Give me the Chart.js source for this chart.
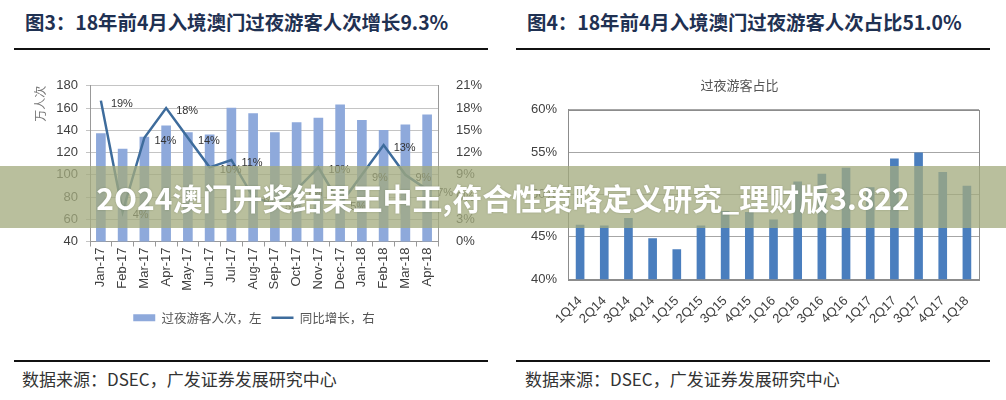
<!DOCTYPE html>
<html><head><meta charset="utf-8">
<script src="https://cdn.jsdelivr.net/npm/chart.js@4.4.1/dist/chart.umd.min.js"></script>
<style>
body{margin:0;width:1006px;height:400px;background:#fff;position:relative;overflow:hidden;font-family:"Noto Sans CJK SC",sans-serif;}
.t{position:absolute;top:7px;font-size:19.4px;font-weight:bold;color:#1F3152;white-space:nowrap;}
.rule{position:absolute;height:2px;background:#111;}
.src{position:absolute;top:366px;font-size:17px;color:#333;white-space:nowrap;}
#c1wrap{position:absolute;left:14px;top:60px;width:480px;height:274px;}
#c2wrap{position:absolute;left:500px;top:60px;width:506px;height:290px;}
#banner{position:absolute;left:0;top:166px;width:1006px;height:62px;background:rgba(163,171,126,0.76);z-index:5;color:#fff;font-weight:bold;font-size:30px;text-align:center;line-height:62px;white-space:nowrap;text-shadow:0 0 2px rgba(80,90,60,0.4);}
</style></head>
<body>
<div class="t" style="left:25px">图3：18年前4月入境澳门过夜游客人次增长9.3%</div>
<div class="t" style="left:527px">图4：18年前4月入境澳门过夜游客人次占比51.0%</div>
<div class="rule" style="left:14px;top:48px;width:474px"></div>
<div class="rule" style="left:516px;top:48px;width:474px"></div>
<div id="c1wrap"><canvas id="c1" width="480" height="274"></canvas></div>
<div id="c2wrap"><canvas id="c2" width="506" height="290"></canvas></div>
<div class="rule" style="left:14px;top:360px;width:474px"></div>
<div class="rule" style="left:516px;top:360px;width:474px"></div>
<div class="src" style="left:22px">数据来源：DSEC，广发证券发展研究中心</div>
<div class="src" style="left:525px">数据来源：DSEC，广发证券发展研究中心</div>
<div id="banner">2O24澳门开奖结果王中王,符合性策略定义研究_理财版3.822</div>
<script>
// ---- data ----
const months = ['Jan-17','Feb-17','Mar-17','Apr-17','May-17','Jun-17','Jul-17','Aug-17','Sep-17','Oct-17','Nov-17','Dec-17','Jan-18','Feb-18','Mar-18','Apr-18'];
const overnightVisitors = [137,123,134,144,138,136,160,155,138,147,151,163,149,140,145,154];
const yoyGrowth = [19,4,14,18,14,10,11,6,5,7,10,5,9,13,9,7];
const quarters = ['1Q14','2Q14','3Q14','4Q14','1Q15','2Q15','3Q15','4Q15','1Q16','2Q16','3Q16','4Q16','1Q17','2Q17','3Q17','4Q17','1Q18'];
const overnightShare = [46.4,46.3,47.2,44.8,43.5,46.3,48.0,47.9,47.0,51.5,52.4,53.1,50.8,54.2,54.9,52.6,51.0];

Chart.defaults.font.family = '"Liberation Sans", Arial, sans-serif';
Chart.defaults.color = '#404040';

const pctLabels = {
  id:'pctLabels',
  afterDatasetsDraw(chart){
    const idx = chart.data.datasets.findIndex(d => d.type === 'line');
    if (idx < 0) return;
    const meta = chart.getDatasetMeta(idx);
    const ctx = chart.ctx;
    ctx.save();
    ctx.font = '11px "Liberation Sans", Arial, sans-serif';
    ctx.fillStyle = '#333';
    ctx.textAlign = 'left';
    ctx.textBaseline = 'middle';
    meta.data.forEach((pt, i) => {
      ctx.fillText(chart.data.datasets[idx].data[i] + '%', pt.x + 10, pt.y + 3);
    });
    ctx.restore();
  }
};

const frame = {
  id:'frame',
  afterDraw(chart){
    const a = chart.chartArea, ctx = chart.ctx;
    ctx.save();
    ctx.strokeStyle = '#8C8C8C';
    ctx.lineWidth = 1;
    ctx.strokeRect(Math.round(a.left)+0.5, Math.round(a.top)+0.5, Math.round(a.right-a.left), Math.round(a.bottom-a.top));
    ctx.restore();
  }
};

new Chart(document.getElementById('c1'), {
  type:'bar',
  data:{
    labels: months,
    datasets:[
      {type:'line', label:'同比增长，右', data: yoyGrowth, yAxisID:'y1', borderColor:'#3E6C9C', backgroundColor:'#3E6C9C', borderWidth:2.5, pointRadius:0, tension:0, pointStyle:'line', order:1},
      {type:'bar', label:'过夜游客人次，左', data: overnightVisitors, yAxisID:'y', backgroundColor:'#8EA9DB', barThickness:9, pointStyle:'rect', order:2}
    ]
  },
  options:{
    responsive:false, animation:false,
    layout:{padding:{top:20,left:0,right:0,bottom:0}},
    plugins:{
      legend:{
        position:'bottom', reverse:true,
        labels:{usePointStyle:true, pointStyleWidth:22, boxHeight:7, padding:10, color:'#555', font:{size:12.5, family:'"Noto Sans CJK SC", sans-serif'}}
      },
      tooltip:{enabled:false}
    },
    scales:{
      x:{
        grid:{display:true, drawOnChartArea:false, drawTicks:true, tickLength:5, offset:true, color:'#999'},
        border:{color:'#999'},
        ticks:{minRotation:90, maxRotation:90, autoSkip:false, padding:1, color:'#404040', font:{size:13}},
        afterFit(s){ s.height = 60; }
      },
      y:{
        position:'left', min:40, max:180,
        ticks:{stepSize:20, padding:8, color:'#404040', font:{size:13}},
        grid:{color:'#C4C4C4', tickLength:4},
        border:{color:'#999'},
        title:{display:true, text:'万人次', align:'end', color:'#777', font:{size:12, family:'"Noto Sans CJK SC", sans-serif'}, padding:{top:19, bottom:0}},
        afterFit(s){ s.width = 76; }
      },
      y1:{
        position:'right', min:0, max:21,
        ticks:{stepSize:3, padding:18, color:'#404040', font:{size:13}, callback:v => v + '%'},
        grid:{drawOnChartArea:false, drawTicks:false},
        border:{color:'#999'},
        afterFit(s){ s.width = 56; }
      }
    }
  },
  plugins:[pctLabels]
});

new Chart(document.getElementById('c2'), {
  type:'bar',
  data:{
    labels: quarters,
    datasets:[{label:'过夜游客占比', data: overnightShare, backgroundColor:'#4A7EBE', barThickness:8}]
  },
  options:{
    responsive:false, animation:false,
    layout:{padding:{top:0,left:0,right:27,bottom:0}},
    plugins:{
      legend:{display:false},
      tooltip:{enabled:false},
      title:{display:true, text:'过夜游客占比', color:'#555', font:{size:13, weight:'normal', family:'"Noto Sans CJK SC", sans-serif'}, padding:{top:17,bottom:17}}
    },
    scales:{
      x:{
        grid:{display:false},
        border:{color:'#8C8C8C'},
        ticks:{minRotation:45, maxRotation:45, autoSkip:false, padding:6, color:'#404040', font:{size:13}},
        afterFit(s){ s.height = 70.7; }
      },
      y:{
        min:40, max:60,
        ticks:{stepSize:5, padding:11, color:'#404040', font:{size:13}, callback:v => v + '%'},
        grid:{color:'#A6A6A6', drawTicks:false},
        border:{color:'#8C8C8C'},
        afterFit(s){ s.width = 68; }
      }
    }
  },
  plugins:[frame]
});
</script>
</body></html>
